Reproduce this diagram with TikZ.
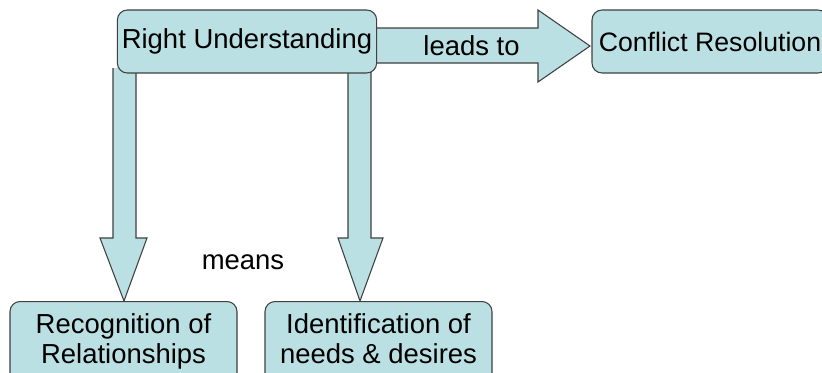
\documentclass[tikz,border=0pt]{standalone}
\usepackage{fontspec}
\setmainfont{Liberation Sans}
\definecolor{boxfill}{HTML}{BBE0E3}
\definecolor{boxline}{HTML}{404040}
\tikzset{
  box/.style={draw=boxline, fill=boxfill, line width=0.8pt, rounded corners=7.5pt,
    font=\fontsize{20.6}{22.5}\selectfont, align=center, text=black},
  blockarrow/.style={draw=boxline, fill=boxfill, line width=0.8pt, line join=miter},
  word/.style={font=\fontsize{20.6}{24}\selectfont, text=black, inner sep=0pt}
}
\begin{document}
\begin{tikzpicture}[x=0.75pt, y=-0.75pt]
		\useasboundingbox (0,0) rectangle (822,372);

		% 箭头 (先画, 方框盖在上面)
		\draw[blockarrow] (370,28) -- (538,28) -- (538,10) -- (590,46) -- (538,82) -- (538,63) -- (370,63);
		\draw[blockarrow] (113,68) -- (113,238) -- (100,238) -- (124,301) -- (147,238) -- (136,238) -- (136,68);
		\draw[blockarrow] (348,68) -- (348,238) -- (338,238) -- (360,301) -- (383,238) -- (371,238) -- (371,68);

		% 方框
		\node[box, minimum width=192pt, minimum height=47.25pt] (ru) at (247,41.5) {Right Understanding};
		\node[box, font=\fontsize{20}{22.5}\selectfont, minimum width=177pt, minimum height=47.25pt] (cr) at (710,41.5) {Conflict Resolution};
		\node[box, anchor=north, minimum width=170.25pt, inner ysep=9.2pt] (rr) at (123.5,301) {Recognition of\\Relationships\\[4pt]};
		\node[box, anchor=north, minimum width=170.25pt, inner ysep=9.2pt] (idn) at (378.5,301) {Identification of\\needs \& desires\\[4pt]};

		% 文字
		\node[word] (leads) at (471.5,46) {leads to};
		\node[word] (means) at (243,262) {means};
	\end{tikzpicture}
\end{document}
